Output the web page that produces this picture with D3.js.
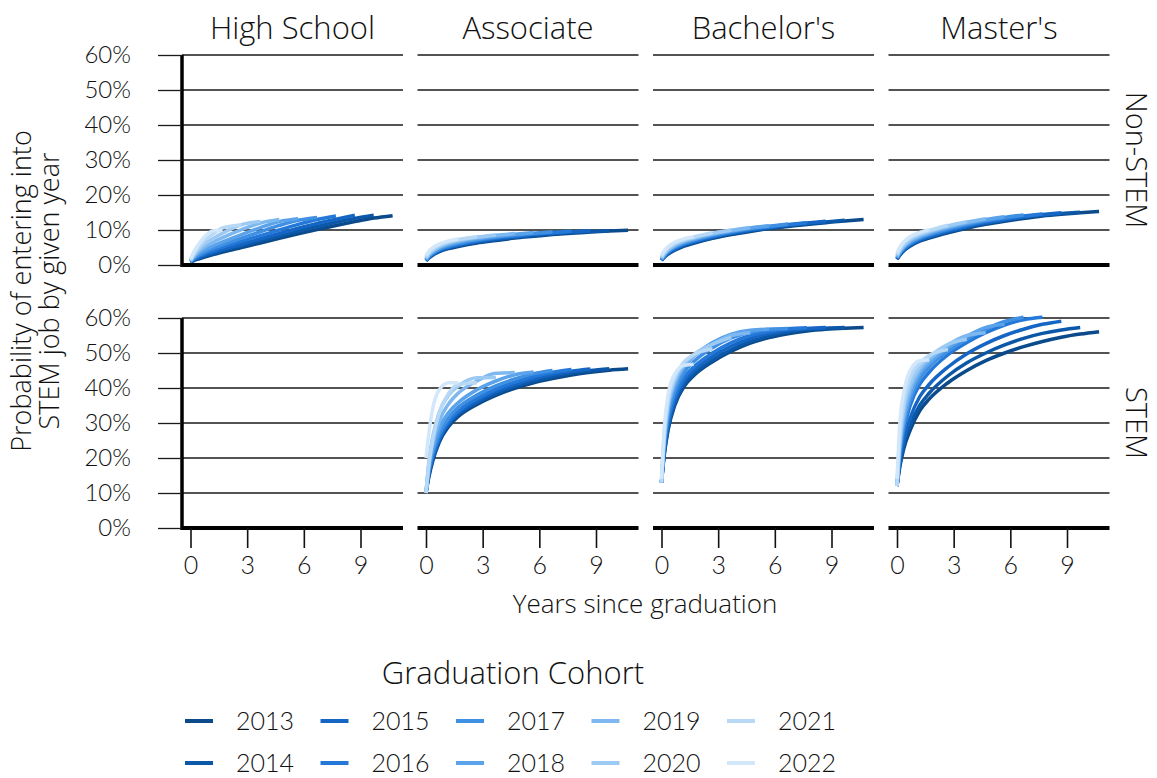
<!DOCTYPE html>
<html>
<head>
<meta charset="utf-8">
<script src="https://cdn.jsdelivr.net/npm/d3@7"></script>
<style>
  body { margin: 0; background: #fff; }
  text { font-family: "Open Sans", Lato, sans-serif; font-weight: 300; fill: #111; }
  .num { font-family: Lato, sans-serif; font-weight: 300; }
</style>
</head>
<body>
<script>
var w = 1157,
    h = 778;

// data: cumulative % entering STEM job, per cohort, sampled at yearsGrid
// cohort i (2013 = 0) is observed for the first (15 - i) grid points
const cohorts = [2013, 2014, 2015, 2016, 2017, 2018, 2019, 2020, 2021, 2022];
const degrees = ["High School", "Associate", "Bachelor's", "Master's"];
const fields = ["Non-STEM", "STEM"];
const yearsGrid = [0, 0.15, 0.35, 0.7, 1.2, 1.7, 2.7, 3.7, 4.7, 5.7, 6.7, 7.7, 8.7, 9.7, 10.7];
const yTicks = [0, 10, 20, 30, 40, 50, 60];
const xTicks = [0, 3, 6, 9];
const cohortColors = ["#0b4a8b", "#0c58a8", "#1566c4", "#2479d8", "#3f8fe3",
                      "#5aa3ea", "#7db8f0", "#9dcaf3", "#b8d9f6", "#d2e7fa"];

const hsNonStem = [
  [0.8, 1.2, 1.6, 2.2, 3.0, 3.7, 5.0, 6.3, 7.6, 8.9, 10.1, 11.3, 12.4, 13.4, 14.1],
  [0.8, 1.3, 1.8, 2.5, 3.3, 4.1, 5.5, 6.9, 8.3, 9.7, 11.0, 12.2, 13.3, 14.2],
  [0.9, 1.4, 2.0, 2.8, 3.7, 4.5, 6.0, 7.5, 9.0, 10.5, 11.9, 13.1, 14.2],
  [1.0, 1.6, 2.3, 3.2, 4.2, 5.1, 6.8, 8.4, 10.0, 11.6, 13.0, 14.0],
  [1.0, 1.8, 2.6, 3.6, 4.8, 5.8, 7.7, 9.5, 11.3, 12.8, 13.6],
  [1.1, 2.0, 3.0, 4.2, 5.5, 6.6, 8.7, 10.7, 12.4, 13.2],
  [1.2, 2.3, 3.5, 5.0, 6.5, 7.8, 10.1, 12.0, 13.0],
  [1.3, 2.6, 4.0, 5.8, 7.6, 9.1, 11.5, 12.4],
  [1.5, 3.0, 4.6, 6.8, 8.9, 10.6, 11.4],
  [1.8, 3.4, 5.3, 7.8, 9.8, 9.9]
];
const assocNonStem = [
  [1.2, 2.0, 2.8, 3.8, 4.7, 5.3, 6.3, 7.0, 7.7, 8.2, 8.7, 9.1, 9.4, 9.7, 9.9],
  [1.3, 2.1, 2.9, 3.9, 4.9, 5.5, 6.5, 7.2, 7.9, 8.4, 8.9, 9.3, 9.6, 9.8],
  [1.3, 2.2, 3.0, 4.1, 5.0, 5.7, 6.7, 7.5, 8.1, 8.7, 9.1, 9.5, 9.8],
  [1.4, 2.3, 3.2, 4.3, 5.2, 5.9, 6.9, 7.7, 8.3, 8.9, 9.3, 9.7],
  [1.5, 2.5, 3.4, 4.5, 5.5, 6.2, 7.2, 8.0, 8.6, 9.1, 9.5],
  [1.6, 2.7, 3.6, 4.8, 5.8, 6.5, 7.5, 8.2, 8.8, 9.3],
  [1.8, 2.9, 3.9, 5.1, 6.1, 6.8, 7.8, 8.5, 9.0],
  [2.0, 3.2, 4.2, 5.4, 6.4, 7.1, 8.0, 8.6],
  [2.3, 3.5, 4.5, 5.7, 6.7, 7.3, 8.1],
  [2.7, 3.9, 4.9, 6.0, 6.9, 7.4]
];
const bachNonStem = [
  [1.3, 2.2, 3.1, 4.2, 5.4, 6.2, 7.6, 8.7, 9.6, 10.4, 11.0, 11.6, 12.1, 12.6, 13.0],
  [1.4, 2.3, 3.2, 4.4, 5.6, 6.4, 7.8, 8.9, 9.8, 10.5, 11.2, 11.8, 12.3, 12.8],
  [1.4, 2.4, 3.4, 4.6, 5.8, 6.6, 8.0, 9.1, 10.0, 10.7, 11.4, 12.0, 12.5],
  [1.5, 2.5, 3.6, 4.8, 6.0, 6.8, 8.2, 9.3, 10.2, 10.9, 11.6, 12.1],
  [1.6, 2.7, 3.8, 5.1, 6.3, 7.1, 8.5, 9.5, 10.4, 11.1, 11.7],
  [1.7, 2.9, 4.0, 5.3, 6.5, 7.3, 8.7, 9.7, 10.6, 11.2],
  [1.9, 3.1, 4.3, 5.6, 6.8, 7.6, 8.9, 9.9, 10.7],
  [2.1, 3.4, 4.6, 5.9, 7.0, 7.8, 9.1, 10.0],
  [2.4, 3.7, 4.9, 6.2, 7.3, 8.0, 9.2],
  [2.8, 4.1, 5.3, 6.5, 7.5, 8.1]
];
const mastNonStem = [
  [1.6, 2.8, 4.0, 5.4, 6.8, 7.7, 9.2, 10.5, 11.6, 12.5, 13.3, 14.0, 14.5, 14.9, 15.3],
  [1.7, 2.9, 4.2, 5.6, 7.0, 7.9, 9.5, 10.8, 11.9, 12.8, 13.6, 14.2, 14.7, 15.1],
  [1.8, 3.0, 4.3, 5.8, 7.2, 8.1, 9.7, 11.0, 12.1, 13.0, 13.8, 14.4, 14.9],
  [1.9, 3.2, 4.5, 6.0, 7.4, 8.4, 10.0, 11.3, 12.4, 13.3, 14.0, 14.6],
  [2.0, 3.4, 4.8, 6.3, 7.7, 8.7, 10.3, 11.6, 12.7, 13.6, 14.3],
  [2.2, 3.6, 5.0, 6.6, 8.0, 9.0, 10.6, 11.9, 13.0, 13.8],
  [2.4, 3.9, 5.3, 6.9, 8.3, 9.3, 10.9, 12.2, 13.2],
  [2.7, 4.2, 5.7, 7.3, 8.7, 9.6, 11.2, 12.4],
  [3.0, 4.6, 6.1, 7.7, 9.0, 9.9, 11.4],
  [3.5, 5.1, 6.6, 8.1, 9.3, 10.1]
];
const hsStem = [];
const assocStem = [
  [10, 14.5, 19, 24.5, 29, 31.8, 35.3, 37.9, 39.9, 41.5, 42.7, 43.7, 44.5, 45.1, 45.5],
  [10, 15, 19.5, 25, 29.5, 32.3, 35.8, 38.4, 40.4, 42.0, 43.3, 44.3, 45.0, 45.5],
  [10, 15.5, 20, 25.5, 30, 32.8, 36.3, 39.0, 41.0, 42.6, 43.9, 44.8, 45.4],
  [10, 16, 20.5, 26, 30.6, 33.4, 37.0, 39.7, 41.7, 43.3, 44.5, 45.3],
  [10, 16.5, 21.5, 27, 31.5, 34.4, 38.0, 40.6, 42.6, 44.1, 45.0],
  [10, 17, 22.5, 28.5, 33, 35.8, 39.5, 42.0, 43.8, 44.6],
  [10, 18, 24, 30.5, 35.5, 38.5, 42.0, 44.2, 44.4],
  [10, 19, 26, 33, 38, 40.5, 42.9, 43.0],
  [10, 18, 25, 33, 38.5, 41, 41.5],
  [20, 27, 34, 39.5, 41.5, 41.5]
];
const bachStem = [
  [13, 21, 28, 35, 40.5, 43.5, 47.5, 50.5, 52.8, 54.4, 55.5, 56.3, 56.8, 57.1, 57.3],
  [13, 21.5, 28.5, 35.5, 41, 44, 48, 51, 53.3, 54.9, 56, 56.7, 57.1, 57.3],
  [13, 22, 29.5, 36.5, 42, 45, 49, 52, 54.2, 55.6, 56.5, 57.0, 57.3],
  [13, 23, 30.5, 37.5, 43, 46, 50, 53, 55, 56.2, 56.9, 57.2],
  [13, 24, 32, 39, 44.5, 47.5, 51.5, 54.3, 55.9, 56.8, 57.0],
  [13, 25, 33.5, 40.5, 46, 49, 53, 55.4, 56.5, 56.8],
  [13, 25.5, 34.5, 41.5, 46.5, 49, 52.5, 55, 55.8],
  [13, 26.5, 35.5, 42.5, 47, 49.5, 52.5, 54.5],
  [13, 27.5, 36.5, 43, 47.5, 49.5, 51.2],
  [14, 29, 38, 44, 46.5, 46.8]
];
const mastStem = [
  [12, 17.5, 22.5, 28, 33.5, 36.8, 41.5, 45, 47.8, 50, 51.8, 53.3, 54.5, 55.4, 56.1],
  [12, 18, 23.5, 29.5, 35, 38.5, 43.5, 47.2, 50, 52.3, 54.2, 55.6, 56.6, 57.3],
  [12, 19, 25, 31.5, 37.5, 41, 46, 49.8, 52.7, 55, 56.8, 58.2, 59.1],
  [12, 20.5, 27.5, 35, 41, 44.5, 49.5, 53, 55.8, 58, 59.5, 60.2],
  [12, 21.5, 29, 36.5, 42.5, 46, 50.5, 54, 56.8, 59, 60.2],
  [12, 22.5, 30.5, 38, 44, 47, 51.5, 54.8, 57.3, 58.2],
  [12, 23.5, 32, 39.5, 45, 48, 52.3, 55, 55.8],
  [12, 25, 34, 41, 46, 48.8, 52.5, 53.9],
  [12, 26.5, 35.5, 43, 47, 49.3, 51],
  [14, 30, 38.5, 45, 47.8, 48]
];

// row = field, col = degree
const panelData = [
  [hsNonStem, assocNonStem, bachNonStem, mastNonStem],
  [hsStem, assocStem, bachStem, mastStem]
];

// layout
const panelLeft = [182, 417.5, 653, 888.5],
      panelW = 221,
      rowTop = [55, 318],
      panelH = 210;

var svg = d3.select("body").append("svg")
    .attr("width", w)
    .attr("height", h);

const x = d3.scaleLinear().domain([-0.45, 11.25]).range([0, panelW]);
const y = d3.scaleLinear().domain([0, 60]).range([panelH, 0]);

const line = d3.line()
    .x(d => x(d[0]))
    .y(d => y(d[1]))
    .curve(d3.curveMonotoneX);

fields.forEach((field, r) => {
  degrees.forEach((deg, c) => {
    const g = svg.append("g")
        .attr("transform", `translate(${panelLeft[c]},${rowTop[r]})`);

    // gridlines
    g.selectAll(".grid")
      .data(yTicks.filter(t => t > 0))
      .enter().append("line")
        .attr("x1", 0).attr("x2", panelW)
        .attr("y1", d => y(d)).attr("y2", d => y(d))
        .attr("stroke", "#1a1a1a")
        .attr("stroke-width", 1.3);

    // cohort lines
    panelData[r][c].forEach((vals, i) => {
      const pts = vals.map((v, j) => [yearsGrid[j], v]);
      g.append("path")
        .attr("d", line(pts))
        .attr("fill", "none")
        .attr("stroke", cohortColors[i])
        .attr("stroke-width", 3.5)
        .attr("stroke-linejoin", "round");
    });

    // zero line
    g.append("line")
      .attr("x1", 0).attr("x2", panelW)
      .attr("y1", y(0)).attr("y2", y(0))
      .attr("stroke", "#000")
      .attr("stroke-width", 4);

    if (c === 0) {
      g.append("line")
        .attr("x1", 0).attr("x2", 0)
        .attr("y1", 0).attr("y2", panelH + 2)
        .attr("stroke", "#000")
        .attr("stroke-width", 3.5);

      const ya = g.append("g")
          .call(d3.axisLeft(y).tickValues(yTicks).tickFormat(d => d + "%")
                .tickSize(24).tickPadding(27));
      ya.select(".domain").remove();
      ya.selectAll(".tick line").attr("stroke", "#1a1a1a").attr("stroke-width", 1.3);
      ya.selectAll(".tick text")
        .attr("class", "num")
        .style("font-size", "24px")
        .attr("fill", "#111");
    }

    if (r === 1) {
      const xa = g.append("g")
          .attr("transform", `translate(0,${panelH})`)
          .call(d3.axisBottom(x).tickValues(xTicks).tickSize(20).tickPadding(8));
      xa.select(".domain").remove();
      xa.selectAll(".tick line").attr("stroke", "#111").attr("stroke-width", 1.6);
      xa.selectAll(".tick text")
        .attr("class", "num")
        .style("font-size", "25px")
        .attr("fill", "#111");
    }

    if (r === 0) {
      svg.append("text")
        .attr("x", panelLeft[c] + panelW / 2)
        .attr("y", 39)
        .attr("text-anchor", "middle")
        .style("font-size", "31px")
        .text(deg);
    }
  });

  // right strip
  const cy = rowTop[r] + panelH / 2;
  svg.append("text")
    .attr("transform", `translate(1126,${cy}) rotate(90)`)
    .attr("text-anchor", "middle")
    .style("font-size", "29px")
    .text(field);
});

// axis titles
const yTitle = svg.append("text")
    .attr("transform", "translate(31,291) rotate(-90)")
    .attr("text-anchor", "middle")
    .style("font-size", "27px");
yTitle.append("tspan").attr("x", 0).attr("dy", 0).text("Probability of entering into");
yTitle.append("tspan").attr("x", 0).attr("dy", 28).text("STEM job by given year");

svg.append("text")
  .attr("x", 645)
  .attr("y", 613)
  .attr("text-anchor", "middle")
  .style("font-size", "26px")
  .text("Years since graduation");

// legend
svg.append("text")
  .attr("x", 513)
  .attr("y", 684)
  .attr("text-anchor", "middle")
  .style("font-size", "31px")
  .text("Graduation Cohort");

const legend = svg.selectAll(".key")
    .data(cohorts)
    .enter().append("g")
    .attr("transform", (d, i) =>
      `translate(${185 + Math.floor(i / 2) * 135.5},${721 + (i % 2) * 42})`);

legend.append("line")
  .attr("x1", 0).attr("x2", 28)
  .attr("stroke", (d, i) => cohortColors[i])
  .attr("stroke-width", 4);

legend.append("text")
  .attr("class", "num")
  .attr("x", 51)
  .attr("y", 9)
  .style("font-size", "25px")
  .text(d => d);
</script>
</body>
</html>
